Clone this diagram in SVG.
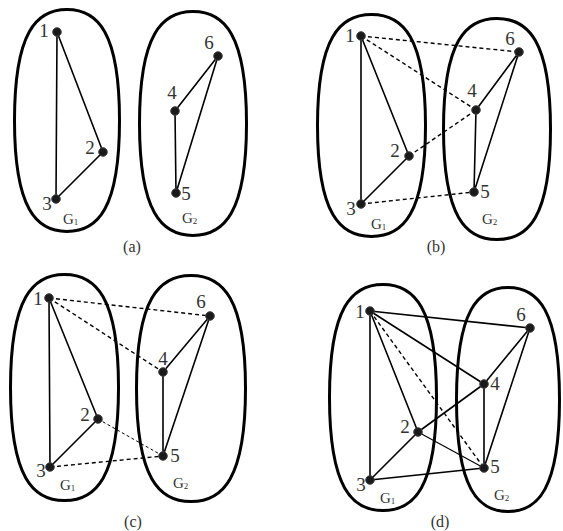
<svg xmlns="http://www.w3.org/2000/svg" width="563" height="531" viewBox="0 0 563 531">
<style>
.grp{fill:none;stroke:#000;stroke-width:3}
.e{stroke:#000;stroke-width:1.6;fill:none}
.d{stroke:#000;stroke-width:1.4;fill:none;stroke-dasharray:4 3}
.dt{stroke:#000;stroke-width:1;fill:none;stroke-dasharray:3 2.5}
.t{stroke:#000;stroke-width:1.1;fill:none}
.n{fill:#1a1a1a;stroke:#444;stroke-width:1}
.num{font-family:"Liberation Serif",serif;font-size:19px;fill:#333;text-anchor:middle}
.g{font-family:"Liberation Serif",serif;font-size:15px;fill:#333}
.s{font-size:9px}
.cap{font-family:"Liberation Serif",serif;font-size:16px;fill:#333;text-anchor:middle}
</style>
<rect width="563" height="531" fill="#fff"/>
<g id="sets">
<path class="grp" d="M67,9.5 C97.5,9.5 119.5,31.7 119.5,120.5 C119.5,209.3 97.5,231.5 67,231.5 C36.5,231.5 14.5,209.3 14.5,120.5 C14.5,31.7 36.5,9.5 67,9.5Z"/>
<path class="grp" d="M193,11.5 C224,11.5 246.5,33.9 246.5,123.5 C246.5,213.1 224,235.5 193,235.5 C162,235.5 139.5,213.1 139.5,123.5 C139.5,33.9 162,11.5 193,11.5Z"/>
<path class="grp" d="M371.5,14.5 C402.8,14.5 425.5,36.7 425.5,125.5 C425.5,214.3 402.8,236.5 371.5,236.5 C340.2,236.5 317.5,214.3 317.5,125.5 C317.5,36.7 340.2,14.5 371.5,14.5Z"/>
<path class="grp" d="M497,18.5 C528,18.5 550.5,40.6 550.5,129 C550.5,217.4 528,239.5 497,239.5 C466,239.5 443.5,217.4 443.5,129 C443.5,40.6 466,18.5 497,18.5Z"/>
<path class="grp" d="M64.5,274.5 C95.8,274.5 118.5,297.1 118.5,387.5 C118.5,477.9 95.8,500.5 64.5,500.5 C33.2,500.5 10.5,477.9 10.5,387.5 C10.5,297.1 33.2,274.5 64.5,274.5Z"/>
<path class="grp" d="M191,275.5 C222.6,275.5 245.5,298.1 245.5,388.5 C245.5,478.9 222.6,501.5 191,501.5 C159.4,501.5 136.5,478.9 136.5,388.5 C136.5,298.1 159.4,275.5 191,275.5Z"/>
<path class="grp" d="M383,284.5 C414,284.5 436.5,307.1 436.5,397.5 C436.5,487.9 414,510.5 383,510.5 C352,510.5 329.5,487.9 329.5,397.5 C329.5,307.1 352,284.5 383,284.5Z"/>
<path class="grp" d="M508,287.5 C537.9,287.5 559.5,309.9 559.5,399.5 C559.5,489.1 537.9,511.5 508,511.5 C478.1,511.5 456.5,489.1 456.5,399.5 C456.5,309.9 478.1,287.5 508,287.5Z"/>
</g>
<g id="connectors">
<path class="e" d="M57,32L103,152M57,32L56,199M103,152L56,199M175,111L176,193M175,111L218,56M176,193L218,56"/>
<path class="e" d="M361,36L409,156M361,36L361,204M409,156L361,204M476,110L474,192M476,110L519,52M474,192L519,52"/>
<path class="d" d="M361,36L519,52M361,36L476,110M409,156L476,110M361,204L474,192"/>
<path class="e" d="M49,298L98,419M49,298L50,467M98,419L50,467M163,372L163,456M163,372L210,316M163,456L210,316"/>
<path class="d" d="M49,298L210,316M49,298L163,372M50,467L163,456"/>
<path class="dt" d="M98,419L163,456"/>
<path class="e" d="M370,311L418,432M370,311L370,480M418,432L370,480M484,384L484,468M484,384L530,328M484,468L530,328M370,311L530,328M370,311L484,384M418,432L484,384M370,480L484,468"/>
<path class="t" d="M418,432L484,468"/>
<path class="d" d="M370,311L484,468"/>
</g>
<g id="nodes-a">
<g id="a1"><circle class="n" cx="57" cy="32" r="4.3"/><text class="num" x="44" y="37">1</text></g>
<g id="a2"><circle class="n" cx="103" cy="152" r="4.3"/><text class="num" x="90" y="154">2</text></g>
<g id="a3"><circle class="n" cx="56" cy="199" r="4.3"/><text class="num" x="47" y="210">3</text></g>
<g id="a4"><circle class="n" cx="175" cy="111" r="4.3"/><text class="num" x="172" y="99">4</text></g>
<g id="a5"><circle class="n" cx="176" cy="193" r="4.3"/><text class="num" x="186" y="200">5</text></g>
<g id="a6"><circle class="n" cx="218" cy="56" r="4.3"/><text class="num" x="209" y="49">6</text></g>
<text class="g" x="63" y="224">G<tspan class="s" dy="1">1</tspan></text>
<text class="g" x="182" y="223">G<tspan class="s" dy="1">2</tspan></text>
<text class="cap" x="132" y="252">(a)</text>
</g>
<g id="nodes-b">
<g id="b1"><circle class="n" cx="361" cy="36" r="4.3"/><text class="num" x="350" y="42">1</text></g>
<g id="b2"><circle class="n" cx="409" cy="156" r="4.3"/><text class="num" x="395" y="157">2</text></g>
<g id="b3"><circle class="n" cx="361" cy="204" r="4.3"/><text class="num" x="351" y="215">3</text></g>
<g id="b4"><circle class="n" cx="476" cy="110" r="4.3"/><text class="num" x="472" y="97">4</text></g>
<g id="b5"><circle class="n" cx="474" cy="192" r="4.3"/><text class="num" x="485" y="198">5</text></g>
<g id="b6"><circle class="n" cx="519" cy="52" r="4.3"/><text class="num" x="510" y="45">6</text></g>
<text class="g" x="371" y="229">G<tspan class="s" dy="1">1</tspan></text>
<text class="g" x="482" y="224">G<tspan class="s" dy="1">2</tspan></text>
<text class="cap" x="436" y="252">(b)</text>
</g>
<g id="nodes-c">
<g id="c1"><circle class="n" cx="49" cy="298" r="4.3"/><text class="num" x="38" y="305">1</text></g>
<g id="c2"><circle class="n" cx="98" cy="419" r="4.3"/><text class="num" x="85" y="421">2</text></g>
<g id="c3"><circle class="n" cx="50" cy="467" r="4.3"/><text class="num" x="41" y="477">3</text></g>
<g id="c4"><circle class="n" cx="163" cy="372" r="4.3"/><text class="num" x="163" y="365">4</text></g>
<g id="c5"><circle class="n" cx="163" cy="456" r="4.3"/><text class="num" x="175" y="462">5</text></g>
<g id="c6"><circle class="n" cx="210" cy="316" r="4.3"/><text class="num" x="201" y="308">6</text></g>
<text class="g" x="60" y="490">G<tspan class="s" dy="1">1</tspan></text>
<text class="g" x="173" y="488">G<tspan class="s" dy="1">2</tspan></text>
<text class="cap" x="133" y="527">(c)</text>
</g>
<g id="nodes-d">
<g id="d1"><circle class="n" cx="370" cy="311" r="4.3"/><text class="num" x="360" y="318">1</text></g>
<g id="d2"><circle class="n" cx="418" cy="432" r="4.3"/><text class="num" x="405" y="433">2</text></g>
<g id="d3"><circle class="n" cx="370" cy="480" r="4.3"/><text class="num" x="361" y="491">3</text></g>
<g id="d4"><circle class="n" cx="484" cy="384" r="4.3"/><text class="num" x="495" y="390">4</text></g>
<g id="d5"><circle class="n" cx="484" cy="468" r="4.3"/><text class="num" x="495" y="473">5</text></g>
<g id="d6"><circle class="n" cx="530" cy="328" r="4.3"/><text class="num" x="521" y="321">6</text></g>
<text class="g" x="380" y="503">G<tspan class="s" dy="1">1</tspan></text>
<text class="g" x="494" y="500">G<tspan class="s" dy="1">2</tspan></text>
<text class="cap" x="440" y="527">(d)</text>
</g>
</svg>
